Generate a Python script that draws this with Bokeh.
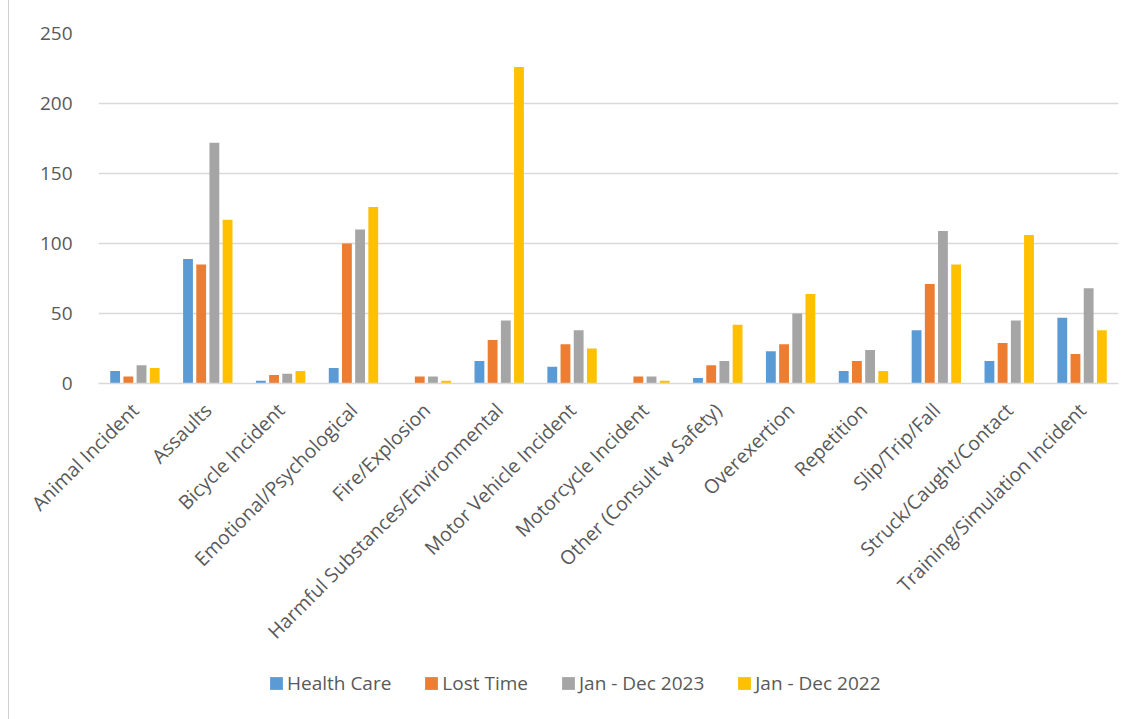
import math
from bokeh.plotting import figure
from bokeh.layouts import column
from bokeh.models import Range1d, FixedTicker, Legend, LegendItem
from bokeh.embed import file_html
from bokeh.resources import INLINE

categories = [
    "Animal Incident", "Assaults", "Bicycle Incident", "Emotional/Psychological",
    "Fire/Explosion", "Harmful Substances/Environmental", "Motor Vehicle Incident",
    "Motorcycle Incident", "Other (Consult w Safety)", "Overexertion", "Repetition",
    "Slip/Trip/Fall", "Struck/Caught/Contact", "Training/Simulation Incident",
]
health_care = [9, 89, 2, 11, 0, 16, 12, 0, 4, 23, 9, 38, 16, 47]
lost_time = [5, 85, 6, 100, 5, 31, 28, 5, 13, 28, 16, 71, 29, 21]
jan_dec_2023 = [13, 172, 7, 110, 5, 45, 38, 5, 16, 50, 24, 109, 45, 68]
jan_dec_2022 = [11, 117, 9, 126, 2, 226, 25, 2, 42, 64, 9, 85, 106, 38]
series_names = ["Health Care", "Lost Time", "Jan - Dec 2023", "Jan - Dec 2022"]
series_colors = ["#5B9BD5", "#ED7D31", "#A5A5A5", "#FFC000"]
y_ticks = [0, 50, 100, 150, 200, 250]

FONT = "Open Sans"
TEXT = "#595959"
W = 1130

p = figure(
    width=W, height=660, output_backend="svg", toolbar_location=None,
    x_range=Range1d(0, len(categories)), y_range=Range1d(0, 250),
    min_border_left=89, min_border_right=21, min_border_top=33, min_border_bottom=277,
)
p.outline_line_color = None
p.background_fill_color = "white"
p.border_fill_color = "white"

centers = [i + 0.5 for i in range(len(categories))]
step = 0.181
bar_w = 0.135
series = [health_care, lost_time, jan_dec_2023, jan_dec_2022]
for k, (vals, color) in enumerate(zip(series, series_colors)):
    off = (k - 1.5) * step
    xs = [c + off for c in centers]
    p.vbar(x=xs, top=vals, width=bar_w, bottom=0, fill_color=color, line_color=None)

# y axis: labels only, light horizontal grid
p.yaxis.ticker = FixedTicker(ticks=y_ticks)
p.yaxis.axis_line_color = None
p.yaxis.major_tick_line_color = None
p.yaxis.minor_tick_line_color = None
p.yaxis.major_label_text_font = FONT
p.yaxis.major_label_text_font_size = "19px"
p.yaxis.major_label_text_color = TEXT
p.yaxis.major_label_standoff = 20
p.ygrid.grid_line_color = "#d9d9d9"
p.ygrid.grid_line_width = 1.5

# x axis: rotated category labels
p.xaxis.ticker = FixedTicker(ticks=centers)
p.xaxis.major_label_overrides = {c: name for c, name in zip(centers, categories)}
p.xaxis.major_label_orientation = math.pi / 4
p.xaxis.axis_line_color = "#d9d9d9"
p.xaxis.axis_line_width = 1.5
p.xaxis.major_tick_line_color = None
p.xaxis.minor_tick_line_color = None
p.xaxis.major_label_text_font = FONT
p.xaxis.major_label_text_font_size = "19.5px"
p.xaxis.major_label_text_color = TEXT
p.xaxis.major_label_standoff = 17
p.xgrid.grid_line_color = None

# legend strip beneath the chart; swatch renderers sit outside the visible range
leg = figure(
    width=W, height=59, output_backend="svg", toolbar_location=None,
    x_axis_location=None, y_axis_location=None,
    x_range=Range1d(0, 1), y_range=Range1d(0, 1),
    min_border=0, min_border_left=0, min_border_right=0, min_border_top=0, min_border_bottom=0,
)
leg.outline_line_color = None
leg.grid.visible = False
swatches = [leg.vbar(x=[-5], top=[-5], bottom=[-6], width=0.1, fill_color=c, line_color=None)
            for c in series_colors]
legend = Legend(
    items=[LegendItem(label=n, renderers=[r]) for n, r in zip(series_names, swatches)],
    orientation="horizontal", location=(170, 23),
    glyph_width=16, glyph_height=16, label_standoff=3, spacing=32,
    padding=0, margin=0, border_line_color=None, background_fill_alpha=0,
    label_text_font=FONT, label_text_font_size="19px", label_text_color=TEXT,
)
leg.add_layout(legend, "center")

page = column(p, leg, spacing=0)
page.styles = {"margin-left": "8px", "border-left": "1px solid #d0d0d0"}

open("out.html", "w").write(file_html(page, INLINE))
